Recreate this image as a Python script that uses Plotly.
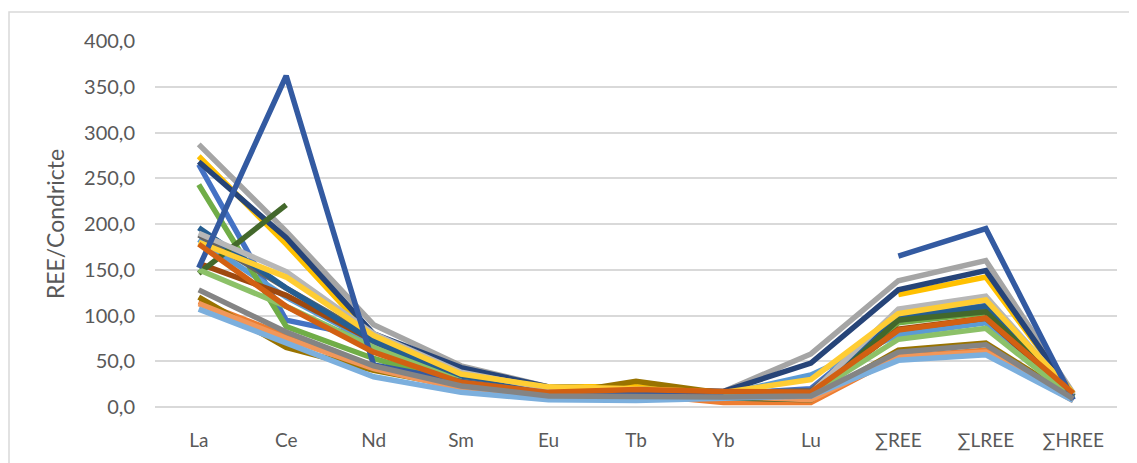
import plotly.graph_objects as go

categories = ["La", "Ce", "Nd", "Sm", "Eu", "Tb", "Yb", "Lu", "∑REE", "∑LREE", "∑HREE"]

s01 = [265, 95, 75, 35, 18, 15, 14, 20, 98, 111, 12]
s02 = [115, 78, 45, 20, 12, 14, 5, 5, 55, 62, 7]
s03 = [287, 192, 90, 45, 22, 20, 17, 58, 138, 160, 15]
s04 = [274, 178, 75, 37, 22, 22, 16, None, 123, 142, 14]
s05 = [183, 120, 70, 32, 15, 13, 14, 35, 79, 92, 10]
s06 = [243, 88, 53, 25, 12, 14, 12, 15, 92, 103, 10]
s07 = [268, 185, 80, 43, 22, 20, 17, 48, 128, 149, 12]
s08 = [157, 122, 72, 30, 16, 16, 14, 12, 85, 97, 12]
s09 = [188, 130, 75, 35, 18, 16, 15, 18, 95, 108, 13]
s10 = [120, 65, 40, 22, 13, 28, 15, 8, 62, 70, 10]
s11 = [196, 130, 72, 30, 16, 14, 14, 15, 98, 110, 12]
s12 = [146, 221, None, None, None, None, 10, 8, 95, 104, 12]
s14 = [113, 75, 42, 20, 12, 14, 12, 8, 55, 60, 8]
s15 = [190, 148, 80, 38, 20, 16, 15, 15, 107, 121, 13]
s16 = [180, 142, 78, 36, 22, 20, 16, 30, 102, 117, 15]
s17 = [107, 70, 33, 16, 8, 7, 9, 12, 51, 57, 7]
s18 = [150, 110, 65, 28, 14, 15, 13, 14, 74, 86, 10]
s19 = [152, 362, 46, 28, 15, 15, 14, None, 165, 195, 8]
s20 = [178, 110, 60, 27, 16, 19, 17, 16, 84, 97, 15]
s21 = [128, 82, 45, 23, 12, 11, 11, 12, 60, 68, 9]

series = [
    (s01, "#4472C4"), (s02, "#ED7D31"), (s03, "#A5A5A5"), (s04, "#FFC000"),
    (s05, "#5B9BD5"), (s06, "#70AD47"), (s07, "#264478"), (s08, "#9E480E"),
    (s09, "#636363"), (s10, "#997300"), (s11, "#255E91"), (s12, "#43682B"),
    (s14, "#F1975A"), (s15, "#B7B7B7"), (s16, "#FFCD33"), (s17, "#7CAFDD"),
    (s18, "#8CC168"), (s19, "#335AA1"), (s20, "#D26012"), (s21, "#848484"),
]

fig = go.Figure()
for vals, col in series:
    fig.add_trace(go.Scatter(x=categories, y=vals, mode="lines",
                             line=dict(color=col, width=5.5),
                             connectgaps=False, showlegend=False,
                             hoverinfo="skip"))

# page has an 8px body margin: figure origin sits at (8, 8)
OFF = 8
W, H = 1137 - OFF, 463 - OFF
L, R, T, B = 155 - OFF, 20, 41 - OFF, 56
pw, ph = W - L - R, H - T - B

def px(xp):
    return (xp - OFF - L) / pw

def py(yp):
    return (H - B - (yp - OFF)) / ph

fig.add_shape(type="rect", xref="paper", yref="paper",
              x0=px(9), x1=px(1180), y0=py(520), y1=py(12),
              line=dict(color="#D9D9D9", width=1.5), fillcolor="rgba(0,0,0,0)",
              layer="below")

fig.update_layout(
    width=W, height=H,
    margin=dict(l=L, r=R, t=T, b=B),
    paper_bgcolor="white", plot_bgcolor="white",
    separators=", ",
    font=dict(family="Lato, Open Sans, sans-serif", color="#595959", size=18),
    xaxis=dict(type="category", categoryorder="array", categoryarray=categories,
               range=[-0.5, 10.5],
               showgrid=False, showline=False, zeroline=False,
               ticks="", ticklabelstandoff=20,
               tickfont=dict(size=19, color="#595959")),
    yaxis=dict(range=[0, 400], dtick=50, tickformat=".1f",
               showgrid=True, gridcolor="#D9D9D9", gridwidth=1.5,
               zeroline=True, zerolinecolor="#D9D9D9", zerolinewidth=1.5,
               showline=False, ticks="", ticklabelstandoff=19,
               tickfont=dict(size=20, color="#595959"),
               title=dict(text="REE/Condricte", standoff=12,
                          font=dict(size=23, color="#595959"))),
)

fig.write_html("out.html")
